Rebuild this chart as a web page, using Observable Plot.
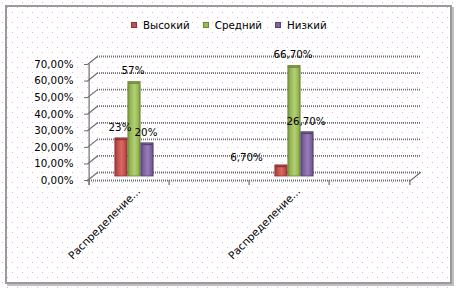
<!DOCTYPE html>
<html>
<head>
<meta charset="utf-8">
<script src="https://cdn.jsdelivr.net/npm/d3@7"></script>
<script src="https://cdn.jsdelivr.net/npm/@observablehq/plot@0.6"></script>
<style>
  html, body { margin: 0; padding: 0; background: #fff; }
  #wrap {
    position: relative; width: 456px; height: 288px; overflow: hidden;
    background-color: #fff;
    background-image: url("data:image/svg+xml,%3Csvg xmlns='http://www.w3.org/2000/svg' width='10' height='10'%3E%3Crect x='2' y='2' width='1' height='1' fill='%23f3a9ef'/%3E%3Crect x='7' y='7' width='1' height='1' fill='%23f3a9ef'/%3E%3C/svg%3E");
    background-size: 10px 10px;
    font-family: "DejaVu Sans", sans-serif;
  }
  #border {
    position: absolute; left: 5px; top: 5px; width: 443px; height: 275px;
    border: 2px solid #9a9a9a;
    box-shadow: 2px 2px 0 #c0c0c0;
  }
  #legend {
    position: absolute; top: 18px; left: 131px; display: flex; align-items: center;
    font-size: 10.3px; color: #000; line-height: 14px; white-space: nowrap;
  }
  #legend .item { display: flex; align-items: center; margin-right: 13px; }
  #legend .sw { width: 6px; height: 6px; margin-right: 6px; }
  #chart { position: absolute; left: 0; top: 0; }
</style>
</head>
<body>
<svg width="0" height="0" style="position:absolute">
  <defs>
    <linearGradient id="gR" x1="0" x2="1" y1="0" y2="0">
      <stop offset="0" stop-color="#9a3a38"/>
      <stop offset="0.25" stop-color="#c8504d"/>
      <stop offset="0.55" stop-color="#d86a66"/>
      <stop offset="0.85" stop-color="#c04a47"/>
      <stop offset="1" stop-color="#8e3634"/>
    </linearGradient>
    <linearGradient id="gG" x1="0" x2="1" y1="0" y2="0">
      <stop offset="0" stop-color="#7a9640"/>
      <stop offset="0.25" stop-color="#9bbb59"/>
      <stop offset="0.55" stop-color="#b2cf74"/>
      <stop offset="0.85" stop-color="#97b655"/>
      <stop offset="1" stop-color="#718a3c"/>
    </linearGradient>
    <linearGradient id="gP" x1="0" x2="1" y1="0" y2="0">
      <stop offset="0" stop-color="#5f4a7c"/>
      <stop offset="0.25" stop-color="#8064a2"/>
      <stop offset="0.55" stop-color="#967cb8"/>
      <stop offset="0.85" stop-color="#7b609c"/>
      <stop offset="1" stop-color="#5a4676"/>
    </linearGradient>
  </defs>
</svg>
<div id="wrap">
  <div id="border"></div>
  <div id="legend"></div>
  <div id="chart"></div>
</div>
<script>
// ---- data ----
const categories = ["Распределение...", "", "Распределение...", ""];
const series = ["Высокий", "Средний", "Низкий"];
const high = [23, null, 6.7, null];
const medium = [57, null, 66.7, null];
const low = [20, null, 26.7, null];
const highLabels = ["23%", null, "6,70%", null];
const mediumLabels = ["57%", null, "66,70%", null];
const lowLabels = ["20%", null, "26,70%", null];
const yTicks = [0, 10, 20, 30, 40, 50, 60, 70];

// ---- styling ----
const seriesColors = ["#c0504d", "#9bbb59", "#8064a2"];
const seriesFills = ["url(#gR)", "url(#gG)", "url(#gP)"];
const seriesEdges = ["#8a3533", "#6d8738", "#574471"];

const W = 456, H = 288;
const mL = 92, mR = 41, mT = 60, mB = 112;
const bw = (W - mL - mR) / categories.length;   // band width
const barW = 13;
const depthX = 5, depthY = 4;                   // half-depth of the 3D box
const gridColor = "#6e6e6e";

const valuesBySeries = [high, medium, low];
const labelsBySeries = [highLabels, mediumLabels, lowLabels];
const rows = [];
series.forEach((s, k) => {
  categories.forEach((c, i) => {
    if (valuesBySeries[k][i] != null) {
      rows.push({cat: i, series: s, k, value: valuesBySeries[k][i], label: labelsBySeries[k][i]});
    }
  });
});

// legend
const legend = document.getElementById("legend");
series.forEach((s, k) => {
  const it = document.createElement("div");
  it.className = "item";
  const sw = document.createElement("div");
  sw.className = "sw";
  sw.style.background = seriesColors[k];
  sw.style.boxShadow = "inset 0 0 0 1px " + seriesEdges[k];
  const tx = document.createElement("span");
  tx.textContent = s;
  it.appendChild(sw); it.appendChild(tx);
  legend.appendChild(it);
});

const lineShape = {
  draw(context, l) { context.moveTo(0, 0); context.lineTo(0, -l); }
};
const diagLen = Math.hypot(2 * depthX, 2 * depthY);
const diagAngle = Math.atan2(2 * depthX, 2 * depthY) * 180 / Math.PI;

const fmt = d => d.toFixed(2).replace(".", ",") + "%";

const barMarks = series.map((s, k) => {
  const left = bw / 2 - 1.5 * barW + k * barW;
  return Plot.barY(rows.filter(d => d.k === k), {
    x: "cat", y: "value",
    fill: seriesFills[k], stroke: seriesEdges[k], strokeWidth: 0.8,
    insetLeft: left, insetRight: bw - left - barW
  });
});
// rounded-looking top caps of the 3D columns
const capMarks = series.map((s, k) => {
  const left = bw / 2 - 1.5 * barW + k * barW;
  return Plot.tickY(rows.filter(d => d.k === k), {
    x: "cat", y: "value", dy: 1,
    stroke: seriesEdges[k], strokeWidth: 1.6,
    insetLeft: left + 1, insetRight: bw - left - barW + 1
  });
});

const labelMarks = series.map((s, k) => Plot.text(rows.filter(d => d.k === k && d.value >= 10), {
  x: "cat", y: "value", text: "label",
  dx: (k - 1) * barW - 1.5, dy: -11, fontSize: 10.3, fill: "#000"
}));
// small value whose label Excel placed to the left to avoid overlap
labelMarks.push(Plot.text(rows.filter(d => d.value < 10), {
  x: "cat", y: "value", text: "label",
  dx: -barW - 35, dy: -8, fontSize: 10.3, fill: "#000"
}));

const gridStyle = {stroke: gridColor, strokeOpacity: 1, strokeWidth: 1.8, strokeDasharray: "1 1"};

const chart = Plot.plot({
  width: W, height: H,
  marginLeft: mL, marginRight: mR, marginTop: mT, marginBottom: mB,
  style: {background: "transparent", fontFamily: "DejaVu Sans, sans-serif", fontSize: "10.3px", overflow: "visible"},
  x: {type: "band", domain: categories.map((c, i) => i), padding: 0, axis: null},
  y: {domain: [0, 70], axis: null},
  marks: [
    // back wall gridlines
    Plot.gridY(yTicks, {dx: depthX, dy: -depthY, ...gridStyle}),
    // side-wall diagonals at each tick
    Plot.vector(yTicks, {y: d => d, frameAnchor: "left", anchor: "start", length: diagLen, rotate: diagAngle,
      shape: lineShape, dx: -depthX, dy: depthY, stroke: gridColor, strokeWidth: 1.2}),
    // right floor diagonal
    Plot.vector([0], {y: d => d, frameAnchor: "right", anchor: "start", length: diagLen, rotate: diagAngle,
      shape: lineShape, dx: -depthX, dy: depthY, stroke: gridColor, strokeWidth: 1.2}),
    // front floor line
    Plot.ruleY([0], {dx: -depthX, dy: depthY, ...gridStyle}),
    // front vertical axis line
    Plot.ruleX([0], {x: d => d, dx: -bw / 2 - depthX, dy: depthY, insetBottom: -5, stroke: gridColor, strokeWidth: 1.2}),
    // category boundary ticks
    Plot.ruleX(categories.map((c, i) => i), {x: d => d, dx: -bw / 2 - depthX, dy: depthY, insetTop: H - mT - mB, insetBottom: -5, stroke: gridColor, strokeWidth: 1.2}),
    Plot.ruleX([categories.length - 1], {x: d => d, dx: bw / 2 - depthX, dy: depthY, insetTop: H - mT - mB, insetBottom: -5, stroke: gridColor, strokeWidth: 1.2}),
    // y axis (front plane)
    Plot.axisY(yTicks, {tickFormat: fmt, tickSize: 3, tickPadding: 11, dx: -depthX, dy: depthY, label: null, stroke: gridColor, fill: "#000", fontSize: 10.3}),
    // x axis labels
    Plot.axisX({tickFormat: i => categories[i], tickSize: 0, tickPadding: 9, tickRotate: -45, dx: -depthX + 9, dy: depthY, label: null, fill: "#000", fontSize: 10.6}),
    ...barMarks,
    ...capMarks,
    ...labelMarks
  ]
});
document.getElementById("chart").appendChild(chart);
</script>
</body>
</html>
